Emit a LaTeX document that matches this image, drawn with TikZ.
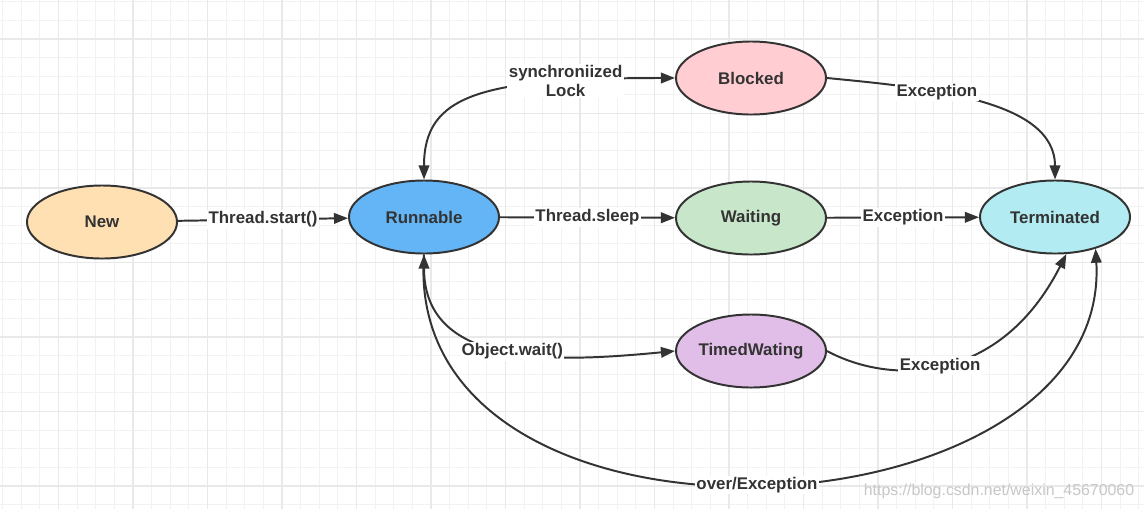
\documentclass[tikz,border=0pt]{standalone}
\usepackage{fontspec}
\setmainfont{Liberation Sans}
\usetikzlibrary{shapes.geometric,arrows.meta}

\definecolor{inkgray}{HTML}{333333}
\definecolor{gridminor}{HTML}{F2F2F2}
\definecolor{gridmajor}{HTML}{E9E9E9}
\definecolor{newfill}{HTML}{FFE0B2}
\definecolor{runfill}{HTML}{64B5F6}
\definecolor{blkfill}{HTML}{FFCDD2}
\definecolor{waitfill}{HTML}{C8E6C9}
\definecolor{termfill}{HTML}{B2EBF2}
\definecolor{twfill}{HTML}{E1BEE7}

\tikzset{
	state/.style={ellipse,draw=inkgray,line width=1.4pt,minimum width=3.75cm,minimum height=1.825cm,inner sep=0pt,text=inkgray,font=\bfseries\fontsize{12}{14}\selectfont},
	trans/.style={draw=inkgray,line width=1.4pt},
	lbl/.style={fill=white,inner sep=1pt,text=inkgray,align=center,font=\bfseries\fontsize{12}{13}\selectfont}
}

\begin{document}
\begin{tikzpicture}[x=0.025cm,y=-0.025cm,>={Triangle[length=10pt,width=7.5pt]}]
	\useasboundingbox (0,0) rectangle (1144,509);
	\fill[white] (0,0) rectangle (1144,509);

	% grid
	\foreach \i in {0,...,61}
		\draw[gridminor,line width=0.7pt] ({2.625+18.625*\i},0) -- ({2.625+18.625*\i},509);
	\foreach \j in {0,...,27}
		\draw[gridminor,line width=0.7pt] (0,{1.75+18.625*\j}) -- (1144,{1.75+18.625*\j});
	\foreach \i in {0,...,14}
		\draw[gridmajor,line width=1.1pt] ({58.5+74.5*\i},0) -- ({58.5+74.5*\i},509);
	\foreach \j in {0,...,6}
		\draw[gridmajor,line width=1.1pt] (0,{39+74.5*\j}) -- (1144,{39+74.5*\j});

	% states
	\node[state,fill=newfill] (new) at (102,222) {New};
	\node[state,fill=runfill] (run) at (424,217) {Runnable};
	\node[state,fill=blkfill] (blk) at (751,78) {Blocked};
	\node[state,fill=waitfill] (wait) at (751,218) {Waiting};
	\node[state,fill=termfill] (term) at (1055,217) {Terminated};
	\node[state,fill=twfill] (tw) at (751,351) {TimedWating};

	%Links
	\draw[trans,->] (new) -- node[lbl] {Thread.start()} (run);
	\draw[trans,<->] (run.north) .. controls (424,95) and (480,78) .. (blk.west)
		node[lbl,pos=0.78] {synchroniized\\Lock};
	\draw[trans,->] (run) -- node[lbl] {Thread.sleep} (wait);
	\draw[trans,<->] (run.south) .. controls (424,370) and (560,362) .. (tw.west)
		node[lbl,pos=0.52] {Object.wait()};

	% to terminated
	\draw[trans,->] (blk.east) .. controls (930,88) and (1055,100) .. (term.north)
		node[lbl,pos=0.35] {Exception};
	\draw[trans,->] (wait) -- node[lbl] {Exception} (term);
	\draw[trans,->] (tw.east) .. controls (890,385) and (1000,385) .. (term.-73)
		node[lbl,pos=0.48] {Exception};
	\draw[trans,->] (run.south) .. controls (400,580) and (1112,545) .. (term.-38)
		node[lbl,pos=0.5] {over/Exception};

	% watermark
	\node[text=black!22,font=\fontsize{11.3}{13}\selectfont] (mark) at (999,491) {https://blog.csdn.net/weixin\_45670060};
\end{tikzpicture}
\end{document}
